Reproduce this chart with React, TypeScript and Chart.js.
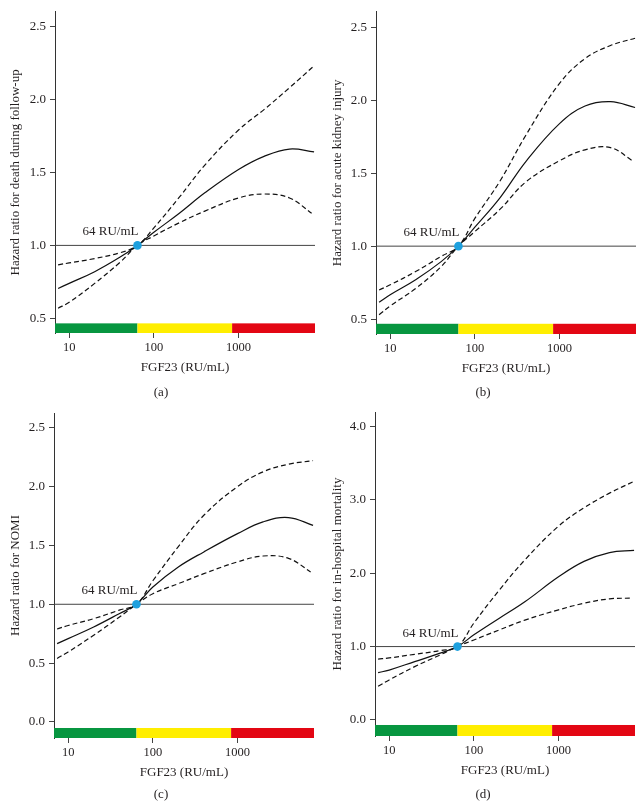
import React, { useEffect, useRef } from 'react';
import { Chart, registerables } from 'chart.js';

Chart.register(...registerables);

// ---- data ----
const fgfPoints = [7.4, 10, 20, 40, 64, 100, 200, 400, 1000, 2000, 4000, 7800];
const fgfPointsLower = [7.4, 10, 20, 40, 64, 100, 200, 400, 1000, 2000, 4000, 7300];

const deathHR = [0.705, 0.74, 0.82, 0.92, 1.0, 1.09, 1.22, 1.36, 1.52, 1.61, 1.66, 1.64];
const deathUpper = [0.867, 0.88, 0.91, 0.95, 1.0, 1.12, 1.33, 1.55, 1.79, 1.93, 2.08, 2.23];
const deathLower = [0.57, 0.61, 0.74, 0.885, 1.0, 1.065, 1.155, 1.235, 1.325, 1.352, 1.325, 1.22];

const akiHR = [0.615, 0.667, 0.77, 0.894, 1.0, 1.13, 1.335, 1.58, 1.84, 1.96, 1.99, 1.95];
const akiUpper = [0.70, 0.735, 0.826, 0.93, 1.0, 1.19, 1.45, 1.76, 2.115, 2.285, 2.375, 2.425];
const akiLower = [0.53, 0.59, 0.71, 0.86, 1.0, 1.10, 1.255, 1.44, 1.585, 1.66, 1.675, 1.585];

const nomiHR = [0.666, 0.708, 0.807, 0.92, 1.0, 1.147, 1.317, 1.445, 1.60, 1.70, 1.737, 1.67];
const nomiUpper = [0.79, 0.82, 0.878, 0.95, 1.0, 1.20, 1.49, 1.756, 2.0, 2.125, 2.19, 2.22];
const nomiLower = [0.54, 0.595, 0.737, 0.89, 1.0, 1.09, 1.175, 1.26, 1.36, 1.41, 1.39, 1.275];

const mortHR = [0.645, 0.68, 0.795, 0.91, 1.0, 1.16, 1.386, 1.61, 1.95, 2.16, 2.28, 2.31];
const mortUpper = [0.83, 0.845, 0.895, 0.945, 1.0, 1.32, 1.77, 2.18, 2.64, 2.89, 3.09, 3.25];
const mortLower = [0.46, 0.545, 0.727, 0.886, 1.0, 1.09, 1.227, 1.36, 1.50, 1.59, 1.65, 1.66];

const xTickValues = [10, 100, 1000];
const xRange = [6.8, 8000];
const cutoffValue = 64;
const cutoffLabel = '64 RU/mL';
const referenceHR = 1.0;
const bandEdges = [6.8, 64, 840, 8000];
const bandColors = ['#079640', '#ffee00', '#e30613'];
const xTitle = 'FGF23 (RU/mL)';

const yTicksLow = [0.5, 1.0, 1.5, 2.0, 2.5];
const yTicksZero = [0.0, 0.5, 1.0, 1.5, 2.0, 2.5];
const yTicksMort = [0.0, 1.0, 2.0, 3.0, 4.0];

const FONT = "'Liberation Serif', 'DejaVu Serif', serif";

type Panel = {
  caption: string;
  yTitle: string;
  hr: number[];
  up: number[];
  lo: number[];
  yMin: number;
  yMax: number;
  yTicks: number[];
  bandTop: number;
  left: number;
  top: number;
  height: number;
  padTop: number;
  padRight: number;
  yW: number;
  xH: number;
  captionY: number;
};

const panels: Panel[] = [
  {
    caption: '(a)', yTitle: 'Hazard ratio for death during follow-up',
    hr: deathHR, up: deathUpper, lo: deathLower,
    yMin: 0.4, yMax: 2.6, yTicks: yTicksLow, bandTop: 0.466,
    left: 0, top: 0, height: 400, padTop: 8, padRight: 7, yW: 55, xH: 67, captionY: 393,
  },
  {
    caption: '(b)', yTitle: 'Hazard ratio for acute kidney injury',
    hr: akiHR, up: akiUpper, lo: akiLower,
    yMin: 0.398, yMax: 2.606, yTicks: yTicksLow, bandTop: 0.468,
    left: 322, top: 0, height: 400, padTop: 9, padRight: 8, yW: 54, xH: 66, captionY: 393,
  },
  {
    caption: '(c)', yTitle: 'Hazard ratio for NOMI',
    hr: nomiHR, up: nomiUpper, lo: nomiLower,
    yMin: -0.136, yMax: 2.625, yTicks: yTicksZero, bandTop: -0.051,
    left: 0, top: 400, height: 410, padTop: 13, padRight: 8, yW: 54, xH: 72, captionY: 395,
  },
  {
    caption: '(d)', yTitle: 'Hazard ratio for in-hospital mortality',
    hr: mortHR, up: mortUpper, lo: mortLower,
    yMin: -0.218, yMax: 4.195, yTicks: yTicksMort, bandTop: -0.068,
    left: 322, top: 400, height: 410, padTop: 12, padRight: 9, yW: 53, xH: 74, captionY: 395,
  },
];

function toXY(xs: number[], ys: number[]) {
  return ys.map((y, i) => ({ x: xs[i], y }));
}

function PanelChart({ p }: { p: Panel }) {
  const ref = useRef<HTMLCanvasElement | null>(null);
  useEffect(() => {
    if (!ref.current) return;
    const decorPlugin = {
      id: 'decor' + p.caption,
      beforeDatasetsDraw(chart: any) {
        const { ctx, scales } = chart;
        const xs = scales.x;
        const ys = scales.y;
        const yTop = ys.getPixelForValue(p.bandTop);
        const yBot = ys.getPixelForValue(p.yMin);
        ctx.save();
        for (let i = 0; i < bandColors.length; i++) {
          const x0 = xs.getPixelForValue(bandEdges[i]);
          const x1 = xs.getPixelForValue(bandEdges[i + 1]);
          ctx.fillStyle = bandColors[i];
          ctx.fillRect(x0, yTop, x1 - x0, yBot - yTop);
        }
        ctx.restore();
      },
      afterDraw(chart: any) {
        const { ctx, chartArea, scales, width } = chart;
        ctx.save();
        ctx.fillStyle = '#231f20';
        ctx.font = `13px ${FONT}`;
        ctx.textAlign = 'center';
        ctx.textBaseline = 'middle';
        ctx.fillText(xTitle, (chartArea.left + chartArea.right) / 2, chartArea.bottom + 35);
        ctx.fillText(p.caption, width / 2, p.captionY);
        ctx.save();
        ctx.translate(16, (chartArea.top + chartArea.bottom) / 2);
        ctx.rotate(-Math.PI / 2);
        ctx.fillText(p.yTitle, 0, 0);
        ctx.restore();
        const px = scales.x.getPixelForValue(cutoffValue);
        const py = scales.y.getPixelForValue(referenceHR);
        ctx.textAlign = 'right';
        ctx.textBaseline = 'alphabetic';
        ctx.fillText(cutoffLabel, px + 1, py - 10);
        ctx.restore();
      },
    };

    const curve = { borderColor: '#111', borderWidth: 1.2, pointRadius: 0, tension: 0.4 };

    const chart = new Chart(ref.current, {
      type: 'line',
      data: {
        datasets: [
          {
            data: [{ x: cutoffValue, y: referenceHR }],
            showLine: false, pointRadius: 4.3, pointBackgroundColor: '#1ea0de',
            pointBorderWidth: 0, borderColor: '#1ea0de', order: 0,
          },
          { data: toXY(fgfPoints, p.hr), ...curve, order: 1 },
          { data: toXY(fgfPoints, p.up), ...curve, borderDash: [5, 3], order: 2 },
          { data: toXY(fgfPointsLower, p.lo), ...curve, borderDash: [5, 3], order: 3 },
          {
            data: [{ x: xRange[0], y: referenceHR }, { x: xRange[1], y: referenceHR }],
            borderColor: '#444', borderWidth: 1, pointRadius: 0, order: 4,
          },
        ],
      } as any,
      options: {
        responsive: false,
        animation: false,
        devicePixelRatio: 1,
        layout: { padding: { top: p.padTop, right: p.padRight, left: 0, bottom: 0 } },
        plugins: { legend: { display: false }, tooltip: { enabled: false }, title: { display: false } },
        scales: {
          x: {
            type: 'logarithmic',
            min: xRange[0],
            max: xRange[1],
            afterBuildTicks: (s: any) => { s.ticks = xTickValues.map((v) => ({ value: v })); },
            afterFit: (s: any) => { s.height = p.xH; },
            ticks: {
              callback: (v: any) => String(v),
              font: { family: FONT, size: 12.5 },
              color: '#231f20',
              padding: 2,
              maxRotation: 0,
              autoSkip: false,
            },
            grid: { display: true, drawOnChartArea: false, drawTicks: true, tickLength: 5, tickColor: '#444', color: '#444' },
            border: { display: false },
          },
          y: {
            type: 'linear',
            min: p.yMin,
            max: p.yMax,
            afterBuildTicks: (s: any) => { s.ticks = p.yTicks.map((v) => ({ value: v })); },
            afterFit: (s: any) => { s.width = p.yW; },
            ticks: {
              callback: (v: any) => Number(v).toFixed(1),
              font: { family: FONT, size: 13 },
              color: '#231f20',
              padding: 4,
              autoSkip: false,
            },
            grid: { display: true, drawOnChartArea: false, drawTicks: true, tickLength: 5, tickColor: '#444', color: '#444' },
            border: { display: true, color: '#333', width: 1 },
          },
        },
      } as any,
      plugins: [decorPlugin],
    });
    return () => chart.destroy();
  }, [p]);

  return (
    <canvas
      ref={ref}
      width={322}
      height={p.height}
      style={{ position: 'absolute', left: p.left, top: p.top, width: 322, height: p.height }}
    />
  );
}

export default function App() {
  return (
    <div style={{ position: 'absolute', left: 0, top: 0, width: 644, height: 810, background: '#fff' }}>
      {panels.map((p) => (
        <PanelChart key={p.caption} p={p} />
      ))}
    </div>
  );
}
